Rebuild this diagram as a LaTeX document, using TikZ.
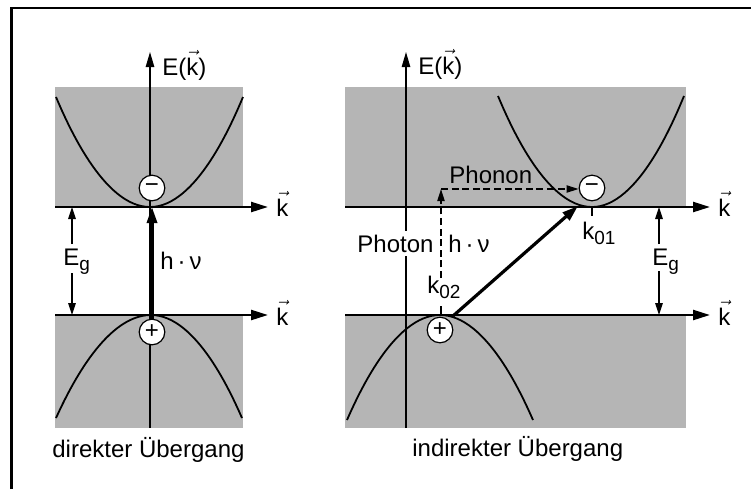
\documentclass[tikz,border=0pt]{standalone}
\usepackage{fontspec}
\setmainfont{Liberation Sans}
\usetikzlibrary{arrows.meta}
\definecolor{band}{gray}{0.71}
\newcommand\mysub[1]{\raisebox{-2.8pt}{\fontsize{9.5}{10}\selectfont #1}}
\newcommand\kvec{\ensuremath{\vec{\hbox{k}}}}
\begin{document}
\begin{tikzpicture}[x=0.5pt,y=-0.5pt,
  lbl/.style={inner sep=0pt,anchor=base west,font=\fontsize{12}{14}\selectfont},
  bandfill/.style={fill=band},
  curve/.style={line width=0.9pt},
  kaxis/.style={line width=1.2pt,-{Triangle[length=8.5pt,width=5pt]}},
  eaxis/.style={line width=0.7pt,-{Triangle[length=7.5pt,width=4.2pt]}},
  egarrow/.style={line width=0.6pt,-{Triangle[length=6pt,width=3.8pt]}},
  dasharrow/.style={line width=0.75pt,dash pattern=on 3.5pt off 1.8pt,-{Triangle[length=6pt,width=3.6pt]}},
  thickarrow/.style={line width=1.6pt,-{Triangle[length=8pt,width=5pt]}},
  tick/.style={line width=0.6pt},
  carrier/.style={circle,draw,line width=0.6pt,fill=white,inner sep=0pt,minimum size=12.8pt,font=\fontsize{12}{14}\selectfont}
]
\useasboundingbox (0,0) rectangle (751,489);
% frame
\draw[line width=1.4pt] (11.7,489) -- (11.7,8) -- (751,8);

% bands
\fill[bandfill] (55,87) rectangle (243,207);
\fill[bandfill] (55,315) rectangle (243,428);
\fill[bandfill] (345,87) rectangle (686,207);
\fill[bandfill] (345,315) rectangle (686,428);

% parabolas
\draw[curve] (56,97) parabola bend (150,207) (243,97);
\draw[curve] (56,418) parabola bend (151,315) (242,418);
\draw[curve] (498,96) parabola bend (592,207) (684,96);
\draw[curve] (347,420) parabola bend (440,315) (533,420);

% coordinates
\coordinate (eLb) at (150,428);
\coordinate (eLt) at (150,52);
\coordinate (eRb) at (406,428);
\coordinate (eRt) at (406,52);
\coordinate (kLuS) at (55,207);
\coordinate (kLuE) at (268,207);
\coordinate (kLlS) at (55,315);
\coordinate (kLlE) at (268,315);
\coordinate (kRuS) at (345,207);
\coordinate (kRuE) at (710,207);
\coordinate (kRlS) at (345,315);
\coordinate (kRlE) at (710,315);

% axes
\draw[eaxis] (eLb) -- (eLt);
\draw[eaxis] (eRb) -- (eRt);
\draw[kaxis] (kLuS) -- (kLuE);
\draw[kaxis] (kLlS) -- (kLlE);
\draw[kaxis] (kRuS) -- (kRuE);
\draw[kaxis] (kRlS) -- (kRlE);

% Eg arrows
\coordinate (egLa) at (72,244);
\coordinate (egLb) at (72,207);
\coordinate (egLc) at (72,273);
\coordinate (egLd) at (72,315);
\draw[egarrow] (egLa) -- (egLb);
\draw[egarrow] (egLc) -- (egLd);
\coordinate (egRa) at (659,244);
\coordinate (egRb) at (659,207);
\coordinate (egRc) at (659,271);
\coordinate (egRd) at (659,315);
\draw[egarrow] (egRa) -- (egRb);
\draw[egarrow] (egRc) -- (egRd);

% ticks
\coordinate (t1a) at (592,207);
\coordinate (t1b) at (592,216);
\coordinate (t2a) at (441,306);
\coordinate (t2b) at (441,315);
\draw[tick] (t1a) -- (t1b);
\draw[tick] (t2a) -- (t2b);

% carriers
\node[carrier] (minusL) at (152,188) {−};
\node[carrier] (plusL) at (152,332) {+};
\node[carrier] (minusR) at (592,188) {−};
\node[carrier] (plusR) at (440,330) {+};

% direct transition
\coordinate (hvLt) at (152,207);
\draw[thickarrow] (plusL.north) -- (hvLt);

% indirect transition
\coordinate (thS) at (453,316);
\coordinate (thE) at (578,206);
\draw[thickarrow] (thS) -- (thE);
\coordinate (phB) at (441,278);
\coordinate (phC) at (441,189);
\draw[dasharrow] (phB) -- (phC);
\draw[dasharrow] (phC) -- (phC -| minusR.west);

% labels
\node[lbl] (ELlab) at (162,75) {E(\kvec)};
\node[lbl] (ERlab) at (418,74) {E(\kvec)};
\node[lbl] (kLu) at (276,216) {\kvec};
\node[lbl] (kLl) at (276,325) {\kvec};
\node[lbl] (kRu) at (718,216) {\kvec};
\node[lbl] (kRl) at (718,325) {\kvec};
\node[lbl] (EgL) at (63,265) {E\mysub{g}};
\node[lbl] (EgR) at (652,265) {E\mysub{g}};
\node[lbl] (hvL) at (160,269) {h\,·\,ν};
\node[lbl,fill=white,inner xsep=1pt,inner ysep=2pt] (photon) at (355,252) {Photon};
\node[lbl] (hvR) at (448,252) {h\,·\,ν};
\node[lbl] (phonon) at (449,183) {Phonon};
\node[lbl] (k01) at (582,239) {k\mysub{01}};
\node[lbl] (k02) at (427,293) {k\mysub{02}};
\node[lbl] (direkt) at (52,457) {direkter Übergang};
\node[lbl] (indirekt) at (412,456) {indirekter Übergang};
\end{tikzpicture}
\end{document}
